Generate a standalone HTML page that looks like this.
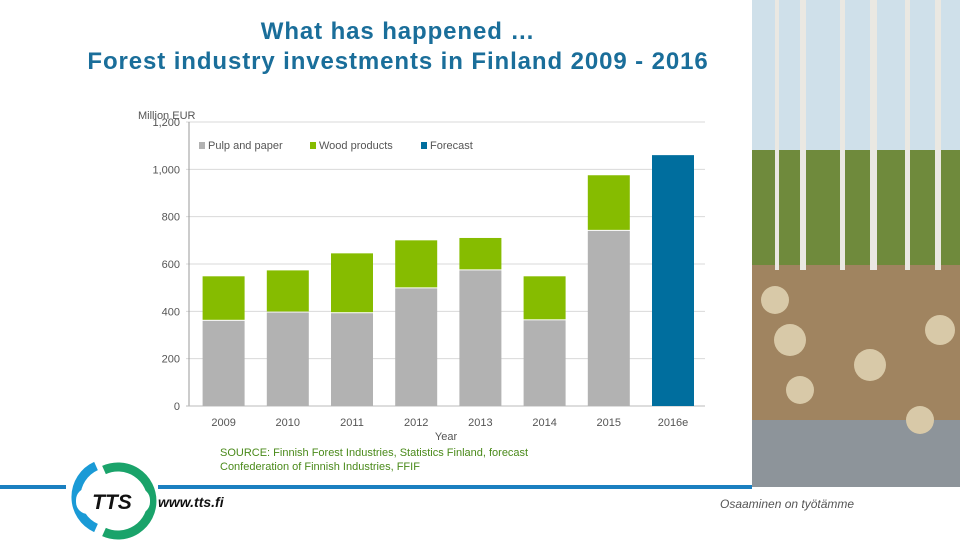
<!DOCTYPE html>
<html><head><meta charset="utf-8"><style>
body{margin:0;width:960px;height:540px;background:#fff;overflow:hidden;position:relative;font-family:"Liberation Sans",sans-serif}
.t{position:absolute;left:0;width:796px;text-align:center;color:#1a6e9a;font-weight:bold;font-size:24px;letter-spacing:0.9px;line-height:30px}
</style></head><body>
<div class="t" style="top:17px">What has happened …<br>Forest industry investments in Finland 2009 - 2016</div>
<svg width="960" height="540" style="position:absolute;left:0;top:0">
<g>
<rect x="752" y="0" width="208" height="487" fill="#cfe0ea"/>
<rect x="752" y="150" width="208" height="120" fill="#6f8a3c"/>
<rect x="752" y="265" width="208" height="222" fill="#a08460"/>
<rect x="752" y="420" width="208" height="67" fill="#8d949a"/>
<g fill="#eae8e2"><rect x="800" y="0" width="6" height="270"/><rect x="840" y="0" width="5" height="270"/><rect x="870" y="0" width="7" height="270"/><rect x="905" y="0" width="5" height="270"/><rect x="935" y="0" width="6" height="270"/><rect x="775" y="0" width="4" height="270"/></g>
<g fill="#d8c9a8"><circle cx="775" cy="300" r="14"/><circle cx="790" cy="340" r="16"/><circle cx="870" cy="365" r="16"/><circle cx="800" cy="390" r="14"/><circle cx="940" cy="330" r="15"/><circle cx="920" cy="420" r="14"/></g>
</g>
<g id="plot"></g>
<rect x="0" y="485" width="752" height="4" fill="#1a7fc0"/>
<g>
<rect x="66" y="478" width="92" height="16" fill="#fff"/>
<path d="M96 466 A34 34 0 0 0 96 528" stroke="#1a9ad6" stroke-width="9" fill="none"/>
<path d="M104 470 A34 34 0 1 1 104 532" stroke="#1aa36a" stroke-width="9" fill="none"/>
<rect x="76" y="488" width="74" height="26" rx="12" fill="#fff"/>
<text x="112" y="509" text-anchor="middle" font-size="21" font-weight="bold" font-style="italic" fill="#111">TTS</text>
</g>
<text x="158" y="507" font-size="14" font-weight="bold" font-style="italic" fill="#111">www.tts.fi</text>
<text x="720" y="508" font-size="12" font-style="italic" fill="#555">Osaaminen on työtämme</text>
<text x="220" y="456" font-size="11" fill="#4a8a1a">SOURCE: Finnish Forest Industries, Statistics Finland, forecast</text>
<text x="220" y="470" font-size="11" fill="#4a8a1a">Confederation of Finnish Industries, FFIF</text>
</svg>
<script>
const categories=["2009","2010","2011","2012","2013","2014","2015","2016e"];
const pulp=[360,395,392,497,573,362,740,0];
const wood=[188,178,253,203,137,186,235,0];
const forecast=[0,0,0,0,0,0,0,1060];
const ticks=[0,200,400,600,800,1000,1200];
const tickLabels=["0","200","400","600","800","1,000","1,200"];
const NS="http://www.w3.org/2000/svg";
const g=document.getElementById('plot');
const y0=406,y1=122,x0=191.5,bw=64.2;
const y=v=>y0-(v/1200)*(y0-y1);
const xc=i=>x0+bw/2+i*bw;
function el(t,a,txt){const e=document.createElementNS(NS,t);for(const k in a)e.setAttribute(k,a[k]);if(txt!=null)e.textContent=txt;g.appendChild(e);return e;}
ticks.forEach((t,i)=>{
 const l=el('line',{x1:186,x2:705,y1:y(t),y2:y(t),stroke:'#d9d9d9','stroke-width':1});
 
 
 const tx=el('text',{x:180,y:y(t)+4,'text-anchor':'end','font-size':11,fill:'#555'},tickLabels[i]);
 
 
});
el('line',{x1:189,x2:189,y1:y1,y2:y0,stroke:'#999'});
el('line',{x1:186,x2:705,y1:y0,y2:y0,stroke:'#bbb'});
const yt=el('text',{x:138,y:119,'font-size':11,fill:'#555'},'Million EUR');


categories.forEach((c,i)=>{
 const w=42,x=xc(i)-w/2;
 if(pulp[i]){const r=el('rect',{x:x,y:y(pulp[i]),width:w,height:y0-y(pulp[i]),fill:'#b2b2b2'});
 
 }
 if(wood[i]){const r=el('rect',{x:x,y:y(pulp[i]+wood[i]),width:w,height:y(pulp[i])-y(pulp[i]+wood[i])-1,fill:'#86bc00'});
 
 }
 if(forecast[i]){const r=el('rect',{x:x,y:y(forecast[i]),width:w,height:y0-y(forecast[i]),fill:'#006e9e'});
 
 }
 const t=el('text',{x:xc(i),y:426,'text-anchor':'middle','font-size':11,fill:'#555'},c);
 
 
});
const xt=el('text',{x:446,y:440,'text-anchor':'middle','font-size':11,fill:'#555'},'Year');


[["Pulp and paper","#b2b2b2",199],["Wood products","#86bc00",310],["Forecast","#006e9e",421]].forEach(d=>{
 const r=el('rect',{x:d[2],y:142,width:6,height:7,fill:d[1]});
 
 
 const t=el('text',{x:d[2]+9,y:149,'font-size':11,fill:'#555'},d[0]);
 
 
});
</script>
</body></html>
